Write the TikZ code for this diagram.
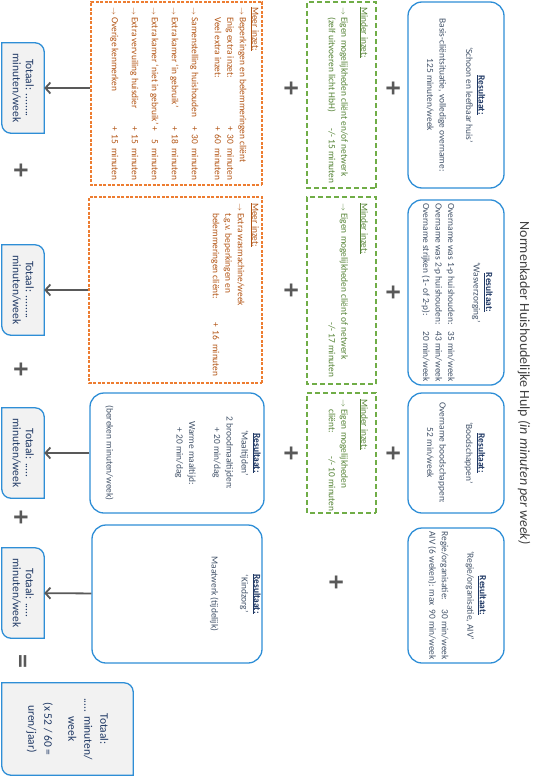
\documentclass[tikz,border=0pt]{standalone}
\usepackage{fontspec}
\setmainfont{Carlito}
\usetikzlibrary{arrows.meta,positioning,backgrounds}

\definecolor{blauwrand}{RGB}{46,142,214}
\definecolor{blauwtekst}{RGB}{68,84,106}
\definecolor{donkerblauw}{RGB}{31,56,100}
\definecolor{groenrand}{RGB}{112,173,71}
\definecolor{groentekst}{RGB}{84,130,53}
\definecolor{oranjerand}{RGB}{237,125,49}
\definecolor{oranjetekst}{RGB}{178,84,20}
\definecolor{grijs}{RGB}{89,89,89}
\definecolor{titelgrijs}{RGB}{64,64,64}
\definecolor{totaalvlak}{RGB}{242,242,242}

\newcommand\tekst{\fontsize{9.4}{12.5}\selectfont}
\newcommand\pijl{\makebox[10pt][l]{\fontsize{7.5}{7.5}\selectfont$\rightarrow$}}
\newcommand\kop[1]{{\color{donkerblauw}\underline{\textbf{#1}}}}
\newcommand\regel[2]{\makebox[109pt][l]{#1}+\hspace{4pt}\makebox[9.5pt][r]{#2}\hspace{4pt}minuten}

\begin{document}
\begin{tikzpicture}[x=1pt, y=1pt,
    resbox/.style={draw=blauwrand, line width=1.3pt, rounded corners=14pt,
                   text=blauwtekst, font=\tekst, align=center},
    minbox/.style={draw=groenrand, line width=1.2pt, dash pattern=on 5pt off 3pt},
    meerbox/.style={draw=oranjerand, line width=1.1pt, dash pattern=on 3pt off 1.5pt},
    mintekst/.style={text=groentekst, font=\tekst, align=left,
                     inner sep=0pt, anchor=north west},
    meertekst/.style={text=oranjetekst, font=\tekst, align=left,
                      inner sep=0pt, anchor=north west},
    restekst/.style={text=blauwtekst, font=\tekst, align=center,
                     inner sep=0pt, anchor=north},
    totbox/.style={text=donkerblauw, font=\fontsize{11.5}{13}\selectfont,
                   align=center, inner sep=0pt},
    teken/.style={text=grijs, font=\fontsize{28}{28}\selectfont\bfseries, inner sep=0pt},
    titel/.style={text=titelgrijs, font=\fontsize{14}{16}\selectfont},
    naar/.style={draw=grijs, line width=1.8pt,
                 -{Straight Barb[length=5pt, width=11pt]}}
  ]
  \useasboundingbox (0,0) rectangle (534,-776);

  \begin{scope}[rotate=-90, transform shape]
    \node[titel] (titel) at (383, 524)
      {Normenkader Huishoudelijke Hulp \textit{(in minuten per week)}};

    % resultaten
    \node[resbox, minimum width=186, minimum height=96] (res1) at (95, 456)
      {\kop{Resultaat:}\\ ‘Schoon en leefbaar huis’\\[14pt]
       Basis-cliëntsituatie, volledige overname:\\ 125 minuten/week};
    \node[resbox, minimum width=185, minimum height=96] (res2) at (292.5, 456)
      {\kop{Resultaat:}\\ ‘Wasverzorging’\\[14pt]
       \begin{tabular}{@{}l@{\hspace{7pt}}l@{}}
         Overname was 1-p huishouden: & 35 min/week\\
         Overname was 2-p huishouden: & 43 min/week\\
         Overname strijken (1- of 2-p): & 20 min/week
       \end{tabular}};
    \node[resbox, minimum width=120, minimum height=96] (res3) at (453, 456)
      {\kop{Resultaat:}\\ ‘Boodschappen’\\[14pt]
       Overname boodschappen:\\ 52 min/week};
    \node[resbox, minimum width=135, minimum height=96] (res4) at (595.5, 456)
      {\kop{Resultaat:}\\ ‘Regie/organisatie, AIV’\\[14pt]
       \begin{tabular}{@{}l@{\hspace{4pt}}l@{}}
         Regie/organisatie: & 30 min/week\\
         AIV (6 weken): max & 90 min/week
       \end{tabular}};

    % minder inzet
    \node[minbox, minimum width=186, minimum height=69] (min1) at (95, 341.5) {};
    \node[mintekst] (min1tekst) at (7, 368)
      {\underline{Minder inzet:}\\[7.5pt]
       \pijl Eigen mogelijkheden cliënt en/of netwerk\\
       \hspace*{10pt}\makebox[111pt][l]{(zelf uitvoeren licht HbH)}-/- 15 minuten};
    \node[minbox, minimum width=187, minimum height=69] (min2) at (290.5, 341.5) {};
    \node[mintekst] (min2tekst) at (203, 368)
      {\underline{Minder inzet:}\\[7.5pt]
       \pijl Eigen mogelijkheden cliënt of netwerk\\
       \hspace*{119pt}-/- 17 minuten};
    \node[minbox, minimum width=120, minimum height=69] (min3) at (453, 341.5) {};
    \node[mintekst] (min3tekst) at (399, 368)
      {\underline{Minder inzet:}\\[7.5pt]
       \pijl Eigen mogelijkheden\\
       \hspace*{10pt}\makebox[47pt][l]{cliënt:}-/- 10 minuten};

    % meer inzet
    \node[meerbox, minimum width=183, minimum height=171] (meer1) at (93.5, 176.5) {};
    \node[meertekst] (meer1tekst) at (7, 259)
      {\underline{Meer inzet:}\\
       \pijl Beperkingen en belemmeringen cliënt\\
       \hspace*{10pt}\regel{Enig extra inzet:}{30}\\
       \hspace*{10pt}\regel{Veel extra inzet:}{60}\\[10.5pt]
       \pijl\regel{Samenstelling huishouden}{30}\\[7.5pt]
       \pijl\regel{Extra kamer ‘in gebruik’}{18}\\[7.5pt]
       \pijl\regel{Extra kamer ‘niet in gebruik’}{5}\\[7.5pt]
       \pijl\regel{Extra vervuiling huisdier}{15}\\[7.5pt]
       \pijl\regel{Overige kenmerken}{15}};
    \node[meerbox, minimum width=186, minimum height=173] (meer2) at (290, 175.5) {};
    \node[meertekst] (meer2tekst) at (203, 259)
      {\underline{Meer inzet:}\\[2pt]
       \pijl Extra wasmachine/week\\
       \hspace*{10pt}t.g.v. beperkingen en\\
       \hspace*{10pt}\regel{belemmeringen cliënt:}{16}};

    \node[resbox, minimum width=120, minimum height=174] (res5) at (453, 177) {};
    \node[restekst] (res5tekst) at (453, 261)
      {\kop{Resultaat:}\\ ‘Maaltijden’\\[2.5pt]
       2 broodmaaltijden:\\ + 20 min/dag\\[12.5pt]
       Warme maaltijd:\\ + 20 min/dag\\[57.5pt]
       (bereken minuten/week)};
    \node[resbox, minimum width=138, minimum height=170] (res6) at (594, 177) {};
    \node[restekst] (res6tekst) at (594, 261)
      {\kop{Resultaat:}\\ ‘Kindzorg’\\[17.5pt] Maatwerk (tijdelijk)};

    % plustekens
    \node[teken] (plus1) at (88, 392) {+};
    \node[teken] (plus2) at (292, 392) {+};
    \node[teken] (plus3) at (453, 392) {+};
    \node[teken] (plus4) at (88, 290) {+};
    \node[teken] (plus5) at (290, 290) {+};
    \node[teken] (plus6) at (453, 290) {+};
    \node[teken] (plus7) at (582, 335) {+};

    % totalen
    \node[totbox, minimum width=90, minimum height=42] (tot1) at (88, 23)
      {Totaal: ........\\ minuten/week};
    \node[totbox, minimum width=90, minimum height=42] (tot2) at (290, 23)
      {Totaal: ........\\ minuten/week};
    \node[totbox, minimum width=90, minimum height=42] (tot3) at (453, 23)
      {Totaal: .....\\ minuten/week};
    \node[totbox, minimum width=90, minimum height=42] (tot4) at (593, 23)
      {Totaal: .....\\ minuten/week};
    \node[totbox, minimum width=92, minimum height=131,
          font=\fontsize{11.5}{16}\selectfont] (eind) at (729, 67.5)
      {Totaal:\\ ..... minuten/\\ week\\[8pt] (x 52 / 60 =\\ uren/jaar)};

    \node[teken] (som1) at (170, 20) {+};
    \node[teken] (som2) at (369, 20) {+};
    \node[teken] (som3) at (517, 20) {+};
    \node[teken] (som4) at (661, 20) {=};

    \begin{scope}[on background layer]
      \foreach \t in {tot1,tot2,tot3,tot4,eind}
        \filldraw[draw=blauwrand, fill=totaalvlak, line width=1.3pt]
          (\t.west) [rounded corners=9pt] -- (\t.north west) -- (\t.north)
          [sharp corners] -- (\t.north east) -- (\t.east)
          [rounded corners=9pt] -- (\t.south east) -- (\t.south)
          [sharp corners] -- (\t.south west) -- cycle;
    \end{scope}

    \draw[naar] (tot1.north |- meer1.south) -- (tot1.north);
    \draw[naar] (meer2) -- (tot2);
    \draw[naar] (res5) -- (tot3);
    \draw[naar] (res6) -- (tot4);
  \end{scope}
\end{tikzpicture}
\end{document}
